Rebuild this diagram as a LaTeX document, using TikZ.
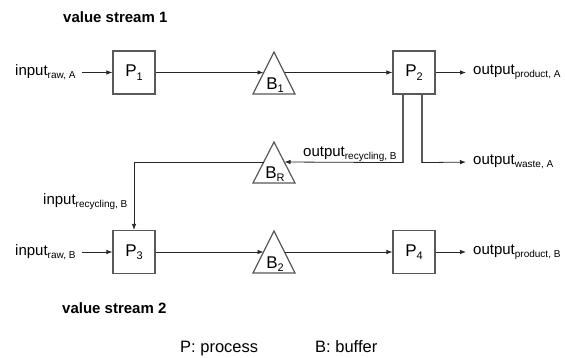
\documentclass[tikz,border=0pt]{standalone}
\usepackage{fontspec}
\setmainfont{Liberation Sans}
\usetikzlibrary{arrows.meta,calc}
\newcommand\mysub[1]{\raisebox{-3pt}{\fontsize{10}{10}\selectfont #1}}
\newcommand\psub[1]{\raisebox{-3.5pt}{\fontsize{11}{11}\selectfont #1}}
\tikzset{
  proc/.style={draw=black!65, line width=1.2pt, minimum width=42pt, minimum height=43pt, inner sep=0pt, font=\fontsize{17}{17}\selectfont},
  blbl/.style={inner sep=0pt, font=\fontsize{17}{17}\selectfont},
  buf/.style={draw=black!65, line width=1.2pt, line join=miter},
  lbl/.style={inner sep=0pt, font=\fontsize{15}{15}\selectfont},
  ttl/.style={inner sep=0pt, font=\bfseries\fontsize{15}{15}\selectfont},
  leg/.style={inner sep=0pt, font=\fontsize{16.5}{16.5}\selectfont},
  flow/.style={-{Latex[length=6pt,width=4.5pt]}, line width=0.8pt, draw=black!85},
  tie/.style={line width=1.2pt, draw=black!65}
}
\begin{document}
\begin{tikzpicture}[x=1pt,y=-1pt]
\path[use as bounding box, fill=white] (0,0) rectangle (565,358);

% titles
\node[ttl, anchor=base west] (vs1) at (63,23) {value stream 1};
\node[ttl, anchor=base west] (vs2) at (62,313) {value stream 2};
\node[leg, anchor=base west] (legP) at (180,352) {P: process};
\node[leg, anchor=base west] (legB) at (315,352) {B: buffer};

% processes
\node[proc] (P1) at (134,72.5) {P\psub{1}};
\node[proc] (P2) at (414,72.5) {P\psub{2}};
\node[proc] (P3) at (134,252) {P\psub{3}};
\node[proc] (P4) at (414,252) {P\psub{4}};

% buffers
\coordinate (B1top) at (274,52);
\draw[buf] (B1top) -- ++(21,42) -- ++(-42,0) -- cycle;
\node[blbl] (B1) at (275,85) {B\psub{1}};
\coordinate (B1w) at (263.5,72.5);
\coordinate (B1e) at (284.5,72.5);

\coordinate (BRtop) at (274,142);
\draw[buf] (BRtop) -- ++(21,41) -- ++(-42,0) -- cycle;
\node[blbl] (BR) at (275,174) {B\psub{R}};
\coordinate (BRw) at (263.5,162);
\coordinate (BRe) at (284.5,162);

\coordinate (B2top) at (274,231);
\draw[buf] (B2top) -- ++(21,42) -- ++(-42,0) -- cycle;
\node[blbl] (B2) at (275,264) {B\psub{2}};
\coordinate (B2w) at (263.5,252);
\coordinate (B2e) at (284.5,252);

% labels
\node[lbl, anchor=west] (inA) at (15,72.5) {input\mysub{raw, A}};
\node[lbl, anchor=west] (outPA) at (473,72.5) {output\mysub{product, A}};
\node[lbl, anchor=base west] (outRB) at (303,157) {output\mysub{recycling, B}};
\node[lbl, anchor=west] (outWA) at (473,162) {output\mysub{waste, A}};
\node[lbl, anchor=base west] (inRB) at (43,205) {input\mysub{recycling, B}};
\node[lbl, anchor=west] (inB) at (15,252) {input\mysub{raw, B}};
\node[lbl, anchor=west] (outPB) at (473,252) {output\mysub{product, B}};

% connectors, stream 1
\draw[flow] (inA.east -| 82,0) -- (P1.west);
\draw[flow] (P1.east) -- (B1w);
\draw[flow] (B1e) -- (P2.west);
\draw[flow, shorten >=7pt] (P2.east) -- (outPA.west |- P2.east);

% recycling / waste
\coordinate (P2a) at ($(P2.south)+(-11,0)$);
\coordinate (P2b) at ($(P2.south)+(8,0)$);
\draw[tie] (P2a) -- ++(0,68);
\draw[tie] (P2b) -- ++(0,68);
\draw[flow] ($(P2a)+(0,68)$) -- (BRe);
\draw[flow, shorten >=7pt] ($(P2b)+(0,68)$) -- (outWA.west |- BRe);
\draw[flow] (BRw) -| (P3.north);

% connectors, stream 2
\draw[flow] (inB.east -| 82,0) -- (P3.west);
\draw[flow] (P3.east) -- (B2w);
\draw[flow] (B2e) -- (P4.west);
\draw[flow, shorten >=7pt] (P4.east) -- (outPB.west |- P4.east);
\end{tikzpicture}
\end{document}
